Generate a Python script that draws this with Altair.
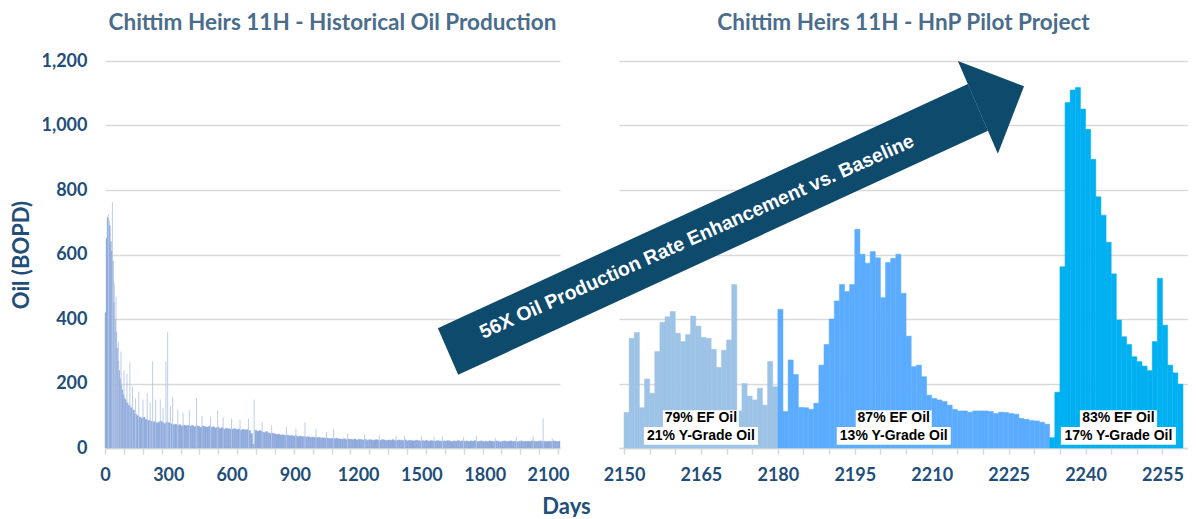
import altair as alt
import pandas as pd

# ---------------- data ----------------
# Left panel: historical daily oil rate, read off the picture as bin levels
early_day = list(range(0, 100, 5))
early_bopd = [420, 650, 715, 705, 690, 640, 610, 580, 450, 400,
              360, 310, 270, 240, 215, 195, 180, 165, 155, 150]
later_day = list(range(100, 2160, 10))
later_bopd = [
    140, 132, 125, 118, 105, 100, 96, 92, 95, 88,      # 100s
    86, 84, 80, 82, 78, 80, 83, 79, 76, 80,            # 200s
    78, 75, 72, 74, 70, 72, 68, 71, 69, 70,            # 300s
    68, 70, 66, 69, 67, 64, 68, 66, 65, 67,            # 400s
    64, 66, 62, 65, 60, 63, 58, 61, 60, 59,            # 500s
    58, 60, 57, 59, 55, 58, 56, 57, 54, 45,            # 600s
    12, 55, 52, 54, 50, 48, 51, 47, 45, 46,            # 700s
    44, 42, 43, 40, 41, 39, 40, 38, 39, 37,            # 800s
    38, 36, 37, 35, 36, 34, 35, 33, 34, 33,            # 900s
    32, 33, 31, 32, 30, 31, 29, 30, 28, 30,            # 1000s
    29, 28, 27, 29, 26, 28, 27, 26, 28, 25,            # 1100s
    27, 26, 25, 27, 24, 26, 25, 24, 26, 25,            # 1200s
    24, 26, 25, 23, 25, 24, 26, 23, 24, 25,            # 1300s
    24, 23, 25, 22, 24, 23, 22, 24, 23, 22,            # 1400s
    23, 22, 24, 21, 23, 22, 21, 23, 22, 21,            # 1500s
    22, 21, 23, 22, 20, 22, 21, 23, 21, 22,            # 1600s
    21, 22, 20, 22, 21, 23, 20, 21, 22, 20,            # 1700s
    21, 20, 22, 21, 20, 22, 21, 19, 21, 22,            # 1800s
    20, 21, 22, 20, 21, 19, 21, 22, 20, 21,            # 1900s
    21, 20, 22, 21, 20, 21, 22, 20, 21, 20,            # 2000s
    21, 20, 22, 21, 20, 21,                            # 2100s
]
hist_last_day = 2157

# single-day spikes above the general level
spike_day = [16, 35, 44, 52, 63, 76, 90, 104, 118, 130,
             145, 160, 180, 200, 214, 226, 240, 262, 275, 289,
             297, 310, 321, 345, 370, 400, 434, 460, 500, 534,
             560, 600, 640, 680, 707, 745, 790, 860, 905, 948,
             1000, 1050, 1084, 1150, 1230, 1300, 1380, 1420, 1500, 1560,
             1600, 1700, 1760, 1850, 1950, 2030, 2077, 2120]
spike_bopd = [725, 762, 511, 470, 330, 299, 240, 230, 266, 190,
              155, 175, 150, 170, 140, 269, 150, 151, 125, 268,
              359, 130, 158, 120, 110, 118, 155, 100, 98, 116,
              95, 92, 88, 90, 150, 80, 70, 65, 60, 79,
              60, 50, 58, 45, 42, 40, 38, 38, 36, 35,
              35, 33, 38, 32, 34, 36, 92, 30]

# Right panel: HnP pilot daily oil, days 2150..2258
pilot_first_day = 2150
pilot_bopd = [
    110, 340, 358, 125, 214, 170, 299, 390, 407, 423,
    356, 330, 352, 409, 378, 343, 340, 306, 250, 303,
    335, 507, 115, 200, 161, 149, 185, 133, 268, 190,
    430, 113, 273, 228, 126, 125, 120, 139, 257, 321,
    400, 456, 507, 485, 507, 678, 601, 573, 609, 590,
    467, 575, 588, 601, 480, 347, 252, 257, 221, 164,
    154, 149, 144, 133, 120, 115, 115, 111, 115, 115,
    115, 113, 107, 111, 110, 107, 105, 92, 89, 85,
    84, 80, 74, 32, 173, 562, 1071, 1110, 1118, 1051,
    988, 895, 779, 722, 638, 540, 397, 345, 321, 283,
    268, 254, 240, 330, 526, 381, 257, 233, 198,
]
phase_names = ["Cycle 1", "Cycle 2", "Cycle 3"]
phase_start = [2150, 2180, 2233]
phase_colors = ["#9DC3E6", "#5BACFF", "#00B0F0"]

ann_text = ["79% EF Oil", "21% Y-Grade Oil", "87% EF Oil", "13% Y-Grade Oil",
            "83% EF Oil", "17% Y-Grade Oil"]
ann_day = [2165.0, 2165.0, 2202.6, 2202.6, 2246.4, 2246.4]
ann_bopd = [91.5, 37.0, 91.5, 37.0, 91.5, 37.0]
ann_box_lo = [65, 10, 65, 10, 65, 10]
ann_box_hi = [117, 65, 117, 65, 117, 65]
ann_box_px = [76, 114, 76, 114, 77, 115]

# big arrow annotation (outline in the right panel's day / BOPD units)
arrow_text = "56X Oil Production Rate Enhancement vs. Baseline"
body_day = [2113.71, 2117.67, 2217.05, 2220.98]
body_top = [371.5, 400.5, 1128.4, 983.9]
body_bottom = [371.5, 227.0, 955.0, 983.9]
head_day = [2215.1, 2222.9, 2228.0]
head_top = [1200.0, 1152.6, 1121.9]
head_bottom = [1200.0, 912.2, 1121.9]
arrow_label_day = [2164.2]
arrow_label_bopd = [654.9]

left_tick_days = [0, 89.5, 179, 268.5, 358, 447.5, 537, 626.5, 716, 805.5, 895,
                  984.5, 1074, 1163.5, 1253, 1342.5, 1432, 1521.5, 1611, 1700.5,
                  1790, 1879.5, 1969, 2058.5, 2148]
left_label_days = [0, 300, 600, 900, 1200, 1500, 1800, 2100]
right_tick_days = list(range(2150, 2260, 5))
right_label_days = [2150, 2165, 2180, 2195, 2210, 2225, 2240, 2255]
y_ticks = [0, 200, 400, 600, 800, 1000, 1200]

# ---------------- tables ----------------
hist_day = early_day + later_day
hist_bopd = early_bopd + later_bopd
hist_end = hist_day[1:] + [hist_last_day]
hist_df = pd.DataFrame({"day": hist_day, "end": hist_end, "bopd": hist_bopd})
spike_df = pd.DataFrame({"day": spike_day, "bopd": spike_bopd})

p_days = [pilot_first_day + i for i in range(len(pilot_bopd))]
p_phase = []
for d in p_days:
    ph = phase_names[0]
    for name, s in zip(phase_names, phase_start):
        if d >= s:
            ph = name
    p_phase.append(ph)
pilot_df = pd.DataFrame({"day": p_days, "end": [d + 1 for d in p_days],
                         "bopd": pilot_bopd, "phase": p_phase})
ann_df = pd.DataFrame({"text": ann_text, "day": ann_day, "bopd": ann_bopd,
                       "lo": ann_box_lo, "hi": ann_box_hi, "w": ann_box_px})
body_df = pd.DataFrame({"day": body_day, "top": body_top, "bottom": body_bottom})
head_df = pd.DataFrame({"day": head_day, "top": head_top, "bottom": head_bottom})
alabel_df = pd.DataFrame({"day": arrow_label_day, "bopd": arrow_label_bopd,
                          "text": [arrow_text]})

# ---------------- styling ----------------
FONT = "Lato"
AX = "#1F4E79"
TITLE_C = "#4A6D8C"
GRID = "#D9D9D9"
ARROW = "#0E4A6C"
HIST = "#8FAADC"
HIST_SPIKE = "#B4C7E7"

y_scale = alt.Scale(domain=[0, 1200], nice=False, zero=True)
lx_scale = alt.Scale(domain=[0, hist_last_day], nice=False, zero=False)
rx_scale = alt.Scale(domain=[2150, 2259], nice=False, zero=False)

# label axes (no ticks) and tick-only axes, both at the bottom
left_x_label_axis = alt.Axis(
    values=left_label_days, format="d", orient="bottom",
    grid=False, domain=True, ticks=False, labelPadding=18,
    labelFlush=False, labelOverlap=False,
    title="Days", titleX=461, titleY=58, titleAlign="center", titleBaseline="middle",
)
left_x_tick_axis = alt.Axis(
    values=left_tick_days, orient="bottom", labels=False, grid=False,
    domain=False, ticks=True, tickSize=6, title=None,
)
left_y_axis = alt.Axis(
    values=y_ticks, format=",d", grid=True, ticks=False, domain=False,
    labelPadding=18, title="Oil (BOPD)", titleAngle=270, titleX=-83.5, titleY=193.5,
    titleAlign="center", titleBaseline="middle",
)
right_x_label_axis = alt.Axis(
    values=right_label_days, format="d", orient="bottom",
    grid=False, domain=True, ticks=False, labelPadding=18,
    labelFlush=False, labelOverlap=False, title=None,
)
right_x_tick_axis = alt.Axis(
    values=right_tick_days, orient="bottom", labels=False, grid=False,
    domain=False, ticks=True, tickSize=6, title=None,
)
right_y_axis = alt.Axis(values=y_ticks, grid=True, ticks=False, domain=False,
                        labels=False, title=None)

title_kw = dict(frame="group", anchor="middle", fontSize=22.5,
                font=FONT, fontWeight="bold", color=TITLE_C)

# ---------------- left panel ----------------
hist_bars = alt.Chart(hist_df).mark_bar(color=HIST, stroke=HIST, strokeWidth=0.4).encode(
    x=alt.X("day:Q", scale=lx_scale, axis=left_x_label_axis),
    x2="end:Q",
    y=alt.Y("bopd:Q", scale=y_scale, axis=left_y_axis),
    y2=alt.datum(0),
)
hist_spikes = alt.Chart(spike_df).mark_rule(color=HIST_SPIKE, strokeWidth=0.9).encode(
    x=alt.X("day:Q", scale=lx_scale, axis=left_x_tick_axis),
    y=alt.Y("bopd:Q", scale=y_scale),
    y2=alt.datum(0),
)
left = alt.layer(hist_bars, hist_spikes).resolve_axis(x="independent").properties(
    width=455, height=387,
    title=alt.TitleParams("Chittim Heirs 11H - Historical Oil Production",
                          offset=18, **title_kw),
)

# ---------------- right panel ----------------
pcol = alt.Scale(domain=phase_names, range=phase_colors)
pilot_bars = alt.Chart(pilot_df).mark_bar(strokeWidth=0.5).encode(
    x=alt.X("day:Q", scale=rx_scale, axis=right_x_label_axis),
    x2="end:Q",
    y=alt.Y("bopd:Q", scale=y_scale, axis=right_y_axis),
    y2=alt.datum(0),
    color=alt.Color("phase:N", scale=pcol, legend=None),
    stroke=alt.Stroke("phase:N", scale=pcol, legend=None),
)
boxes = alt.Chart(ann_df).mark_bar(color="white").encode(
    x=alt.X("day:Q", scale=rx_scale, axis=right_x_tick_axis),
    y=alt.Y("lo:Q", scale=y_scale),
    y2="hi:Q",
    size=alt.Size("w:Q", scale=None, legend=None),
)
ann_labels = alt.Chart(ann_df).mark_text(
    font="Liberation Sans", fontWeight="bold", fontSize=14, color="black",
    align="center", baseline="middle",
).encode(
    x=alt.X("day:Q", scale=rx_scale, axis=None),
    y=alt.Y("bopd:Q", scale=y_scale),
    text="text:N",
)
arrow_body = alt.Chart(body_df).mark_area(color=ARROW, opacity=1).encode(
    x=alt.X("day:Q", scale=rx_scale, axis=None),
    y=alt.Y("top:Q", scale=y_scale),
    y2="bottom:Q",
)
arrow_head = alt.Chart(head_df).mark_area(color=ARROW, opacity=1).encode(
    x=alt.X("day:Q", scale=rx_scale, axis=None),
    y=alt.Y("top:Q", scale=y_scale),
    y2="bottom:Q",
)
arrow_label = alt.Chart(alabel_df).mark_text(
    font="Liberation Sans", fontWeight="bold", fontSize=19.5, color="white",
    align="center", baseline="middle", angle=335.9,
).encode(
    x=alt.X("day:Q", scale=rx_scale, axis=None),
    y=alt.Y("bopd:Q", scale=y_scale),
    text="text:N",
)
right = alt.layer(pilot_bars, boxes, ann_labels, arrow_body, arrow_head, arrow_label).resolve_axis(
    x="independent"
).properties(
    width=569, height=387,
    title=alt.TitleParams("Chittim Heirs 11H - HnP Pilot Project", offset=26.5, **title_kw),
)

chart = alt.hconcat(left, right, spacing=59, bounds="flush").properties(
    padding={"left": 2, "top": 3, "right": 0, "bottom": 0},
).configure_view(stroke=None).configure_axis(
    labelFont=FONT, labelFontSize=18, labelFontWeight="bold", labelColor=AX,
    titleFont=FONT, titleFontSize=22, titleFontWeight="bold", titleColor=AX,
    gridColor=GRID, gridWidth=1.5, domainColor=GRID, domainWidth=1.5,
    tickColor=GRID, tickWidth=1.5,
)

chart.save("out.html", embed_options={"renderer": "svg", "actions": False})
